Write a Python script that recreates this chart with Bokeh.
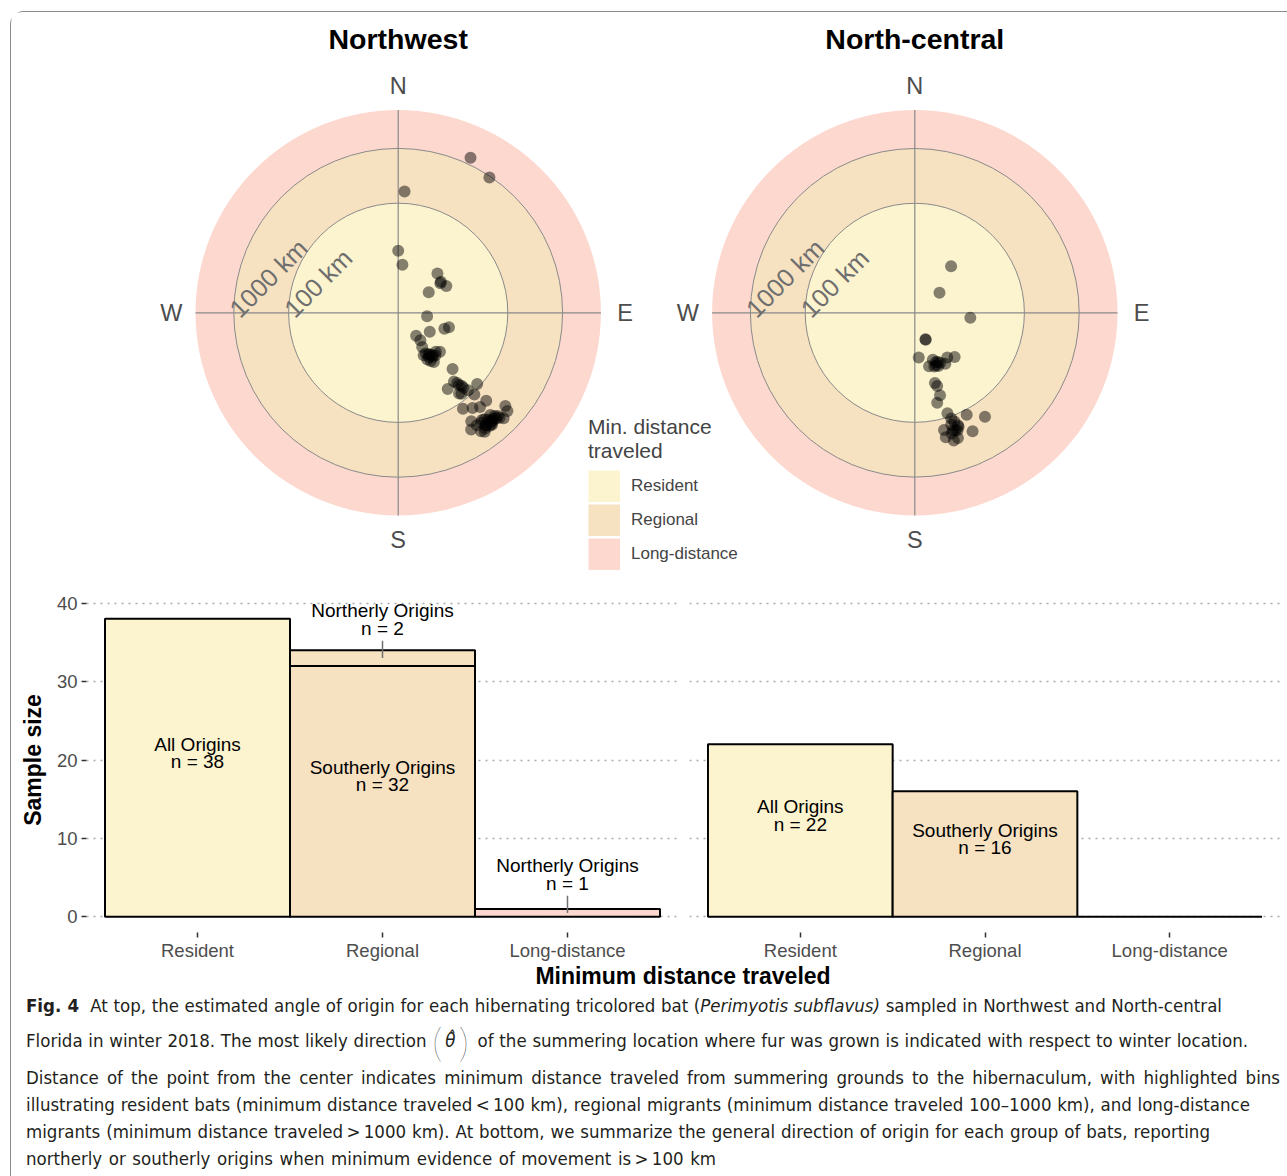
import numpy as np
from bokeh.plotting import figure
from bokeh.models import Range1d, Legend, LegendItem, FixedTicker, Div
from bokeh.layouts import column, row
from bokeh.embed import file_html
from bokeh.resources import INLINE
from bokeh.core.properties import value

# ---------------- data ----------------
panels = ["Northwest", "North-central"]
distance_bins = ["Resident", "Regional", "Long-distance"]
bin_colors = ["#FCF3CF", "#F6E1C1", "#FDD8CF"]
ring_breaks_km = [100, 1000]
ring_labels = ["100 km", "1000 km"]
outer_limit_km = 5000
compass_labels = ["N", "E", "S", "W"]
compass_bearings = [0, 90, 180, 270]

# estimated angle of origin (degrees clockwise from N) and minimum distance (km)
nw_bearing_deg = [0, 5, 45, 55, 61, 56, 97, 121, 109, 106, 142, 141, 145, 146, 145, 141,
                  136, 133, 144, 148, 149, 136, 141, 140, 139, 147, 142, 132,
                  143, 142, 146, 139, 144, 54, 140, 139, 143, 138,
                  34, 3,
                  137, 135, 139, 146, 142, 131, 132, 138, 137, 141, 140, 143, 135, 146,
                  145, 143, 140, 148, 145, 144, 136, 142, 142,
                  139, 140, 138, 141, 139, 137, 142, 136, 140,
                  25]
nw_distance_km = [13.6, 7.6, 10.3, 8.7, 10.1, 4.7, 3.4, 4.7, 7.8, 9.2, 3.4, 4.4, 5.8, 7.9, 9.5, 9.8,
                  9.7, 11, 12.8, 10.1, 8.0, 26.8, 41.3, 52.6, 64.9, 45.6, 75.3, 87,
                  9.0, 10.5, 11.5, 10.8, 8.6, 9.2, 47, 58, 70, 80,
                  948, 164,
                  109, 187, 189, 130, 160, 389, 480, 324, 375, 318, 382, 326, 526, 243,
                  318, 436, 464, 325, 433, 484, 412, 407, 304,
                  420, 440, 400, 450, 395, 430, 390, 460, 350,
                  1327]
nc_bearing_deg = [38, 51, 95, 158, 158, 175, 159, 158, 165, 149, 138, 144, 164, 163, 163, 166,
                  162, 155, 157, 153, 160, 156,
                  153, 146, 160, 161, 166, 154, 166, 163, 161, 162, 159, 161, 162, 160, 163, 159]
nc_distance_km = [11.9, 3.8, 10.4, 3.3, 3.4, 6.6, 8.3, 10.8, 10.2, 12.1, 12.2, 10.2, 21.5, 25, 37.5, 49,
                  84.7, 9.8, 9.5, 10.5, 11, 11.5,
                  122, 195, 129, 184, 160, 254, 219, 272, 261, 141, 158, 110, 179, 190, 200, 170]

# bar chart: sample size by minimum distance traveled and general origin
bar_panel = ["Northwest", "Northwest", "Northwest", "Northwest",
             "North-central", "North-central", "North-central"]
bar_bin = ["Resident", "Regional", "Regional", "Long-distance",
           "Resident", "Regional", "Long-distance"]
bar_group = ["All Origins", "Southerly Origins", "Northerly Origins", "Northerly Origins",
             "All Origins", "Southerly Origins", ""]
bar_n = [38, 32, 2, 1, 22, 16, 0]
y_ticks = [0, 10, 20, 30, 40]

FNAME = "Liberation Sans"
FONT = value(FNAME)

# ---------------- polar panels ----------------
PX = 54.8                    # pixels per decade of km
TOP_W, TOP_H = 1276, 573
center_px = {"Northwest": 386.7, "North-central": 903.3}
CY = 300.3
range_name = {"Northwest": "default", "North-central": "nc"}

y_rng = Range1d(-(TOP_H - CY) / PX, CY / PX)
x_rngs = {p: Range1d(-cx / PX, (TOP_W - cx) / PX) for p, cx in center_px.items()}

top = figure(width=TOP_W, height=TOP_H, x_range=x_rngs["Northwest"], y_range=y_rng,
             x_axis_location=None, y_axis_location=None, output_backend="svg",
             toolbar_location=None, min_border=0, outline_line_color=None)
top.extra_x_ranges = {"nc": x_rngs["North-central"]}
top.grid.visible = False

R_OUT = np.log10(outer_limit_km)
R_LAB = 4.14
R_TITLE = 5.0


def polar_xy(bearing, km):
    r = np.log10(np.asarray(km, dtype=float))
    t = np.radians(np.asarray(bearing, dtype=float))
    return r * np.sin(t), r * np.cos(t)


points = {"Northwest": (nw_bearing_deg, nw_distance_km),
          "North-central": (nc_bearing_deg, nc_distance_km)}

for pnl in panels:
    rn = range_name[pnl]
    radii = [R_OUT] + [np.log10(k) for k in ring_breaks_km[::-1]]
    for rad, col in zip(radii, bin_colors[::-1]):
        top.circle(x=[0], y=[0], radius=rad, fill_color=col, line_color=None, x_range_name=rn)
    top.circle(x=[0, 0], y=[0, 0], radius=[np.log10(k) for k in ring_breaks_km],
               fill_color=None, line_color="#8a8a8a", line_width=1, x_range_name=rn)
    top.segment(x0=[-R_OUT, 0], y0=[0, -R_OUT], x1=[R_OUT, 0], y1=[0, R_OUT],
                line_color="#8a8a8a", line_width=1.2, x_range_name=rn)
    cx_, cy_ = polar_xy(compass_bearings, [10 ** R_LAB] * 4)
    top.text(x=cx_, y=cy_, text=compass_labels, text_align="center", text_baseline="middle",
             text_font=FONT, text_font_size="23.5px", text_color="#4d4d4d", x_range_name=rn)
    top.text(x=[-np.log10(k) for k in ring_breaks_km], y=[0, 0], text=ring_labels,
             angle=np.pi / 4, text_align="left", text_baseline="alphabetic",
             text_font=FONT, text_font_size="25.5px", text_color="#6e6e6e", x_range_name=rn)
    bx, by = polar_xy(*points[pnl])
    top.scatter(x=bx, y=by, size=12, fill_color="black", fill_alpha=0.48,
                line_color=None, x_range_name=rn)
    top.text(x=[0], y=[R_TITLE], text=[pnl], text_align="center", text_baseline="middle",
             text_font=FONT, text_font_size="28.5px", text_font_style="bold",
             text_color="black", x_range_name=rn)

# legend keys: thick butt-capped line renderers fill the whole 32x32 key box
KEY = 32
leg_items = []
for b, c in zip(distance_bins, bin_colors):
    r = top.line(x=[np.nan], y=[np.nan], line_color=c, line_width=KEY, line_cap="butt")
    leg_items.append(LegendItem(label=b, renderers=[r]))
legend = Legend(items=leg_items, title="Min. distance\ntraveled", location=(577, 15),
                glyph_width=KEY, glyph_height=KEY, spacing=2, padding=0, margin=0,
                label_standoff=11, label_text_font=FNAME, label_text_font_size="17px",
                title_text_font=FNAME, title_text_font_size="21px", title_text_font_style="normal",
                title_standoff=7, background_fill_alpha=0, border_line_alpha=0,
                label_height=KEY)
top.add_layout(legend)

# ---------------- bar panels ----------------
base = []
acc = {}
for pnl, b, n in zip(bar_panel, bar_bin, bar_n):
    k = (pnl, b)
    base.append(acc.get(k, 0))
    acc[k] = acc.get(k, 0) + n


def bar_figure(pnl, first):
    f = figure(width=667 if first else 609, height=387,
               x_range=Range1d(0.4, 3.6), y_range=Range1d(-2, 42),
               y_axis_location="left" if first else None,
               output_backend="svg", toolbar_location=None, outline_line_color=None,
               min_border_left=75 if first else 11, min_border_right=0 if first else 7,
               min_border_top=2, min_border_bottom=40)
    f.xgrid.visible = False
    f.ygrid.ticker = FixedTicker(ticks=y_ticks)
    f.ygrid.grid_line_color = "#aaaaaa"
    f.ygrid.grid_line_dash = "2 5"
    f.ygrid.grid_line_width = 1.5
    f.xaxis.ticker = FixedTicker(ticks=[1, 2, 3])
    f.xaxis.major_label_overrides = {i + 1: b for i, b in enumerate(distance_bins)}
    axes = [f.xaxis[0]] + ([f.yaxis[0]] if first else [])
    for ax in axes:
        ax.axis_line_color = None
        ax.major_tick_in = 0
        ax.major_tick_out = 5
        ax.major_tick_line_color = "#333333"
        ax.major_tick_line_width = 1.5
        ax.minor_tick_line_color = None
        ax.major_label_text_font = FNAME
        ax.major_label_text_font_size = "18.5px"
        ax.major_label_text_color = "#4d4d4d"
        ax.major_label_standoff = 2
    if first:
        f.yaxis.ticker = FixedTicker(ticks=y_ticks)
        f.yaxis.major_label_standoff = 4
        f.yaxis.axis_label = "Sample size"
        f.yaxis.axis_label_text_font = FNAME
        f.yaxis.axis_label_text_font_size = "23px"
        f.yaxis.axis_label_text_font_style = "bold"
        f.yaxis.axis_label_text_color = "black"
        f.yaxis.axis_label_standoff = 8

    idx = [i for i, p in enumerate(bar_panel) if p == pnl]
    xs = [distance_bins.index(bar_bin[i]) + 1 for i in idx]
    f.quad(left=[x - 0.5 for x in xs], right=[x + 0.5 for x in xs],
           bottom=[base[i] for i in idx], top=[base[i] + bar_n[i] for i in idx],
           fill_color=[bin_colors[distance_bins.index(bar_bin[i])] for i in idx],
           line_color="black", line_width=2)
    in_x, in_y, in_t, out_x, out_y0, out_y1, out_ty, out_t = [], [], [], [], [], [], [], []
    for x, i in zip(xs, idx):
        if not bar_group[i]:
            continue
        mid = base[i] + bar_n[i] / 2
        lab = f"{bar_group[i]}\nn = {bar_n[i]}"
        if bar_group[i].startswith("Northerly"):
            out_x.append(x); out_y0.append(mid); out_y1.append(mid + 2.2)
            out_ty.append(mid + 2.6); out_t.append(lab)
        else:
            in_x.append(x); in_y.append(mid); in_t.append(lab)
    if out_x:
        f.segment(x0=out_x, y0=out_y0, x1=out_x, y1=out_y1, line_color="#707070", line_width=1.5)
    for tx, ty, tt, yo in ((in_x, in_y, in_t, 4), (out_x, out_ty, out_t, 1)):
        if tx:
            f.text(x=tx, y=ty, text=tt, text_align="center", text_baseline="bottom",
                   y_offset=yo, text_font=FONT, text_font_size="19px", text_color="black",
                   text_line_height=0.82)
    return f


bars = row(bar_figure("Northwest", True), bar_figure("North-central", False))

# ---------------- caption ----------------
CAP = ("font-family:'Liberation Sans Narrow','Arial Narrow','DejaVu Sans Condensed',sans-serif;"
       "font-size:18.5px;color:#231f20;text-align:justify;text-align-last:justify;")
pwrap = "display:inline-block;position:relative;width:13px;height:1px;"
pglyph = ("position:absolute;left:0;top:-24.5px;font-family:'Lato','Inter',sans-serif;"
          "font-weight:100;font-size:40px;line-height:40px;")
lpar = f'<span style="{pwrap}"><span style="{pglyph}">(</span></span>'
rpar = f'<span style="{pwrap}"><span style="{pglyph}">)</span></span>'
# (vertical centre in px from caption top, line width in px, html)
cap_lines = [
    (34, 1196, "<b>Fig. 4</b>&nbsp; At top, the estimated angle of origin for each hibernating tricolored bat (<i>Perimyotis subflavus)</i> sampled in Northwest and North-central"),
    (69, 1222, f"Florida in winter 2018. The most likely direction {lpar}<i>&theta;&#770;</i>&thinsp;{rpar} of the summering location where fur was grown is indicated with respect to winter location."),
    (106, 1254, "Distance of the point from the center indicates minimum distance traveled from summering grounds to the hibernaculum, with highlighted bins"),
    (133, 1224, "illustrating resident bats (minimum distance traveled&thinsp;&lt;&thinsp;100 km), regional migrants (minimum distance traveled 100&ndash;1000 km), and long-distance"),
    (160, 1184, "migrants (minimum distance traveled&thinsp;&gt;&thinsp;1000 km). At bottom, we summarize the general direction of origin for each group of bats, reporting"),
    (187, 690, "northerly or southerly origins when minimum evidence of movement is&thinsp;&gt;&thinsp;100 km"),
]
CAP_H = 204
DIV_OFF = 5   # inner offset of the Div content
html = [f'<div style="position:relative;width:1270px;height:{CAP_H - 10}px;">']
html.append(f'<div style="position:absolute;left:{672 - DIV_OFF}px;top:{-7 - DIV_OFF}px;transform:translateX(-50%);'
            'white-space:nowrap;font-family:\'Liberation Sans\',sans-serif;font-weight:bold;'
            'font-size:23px;line-height:22px;color:black;">Minimum distance traveled</div>')
for cy, w, txt in cap_lines:
    html.append(f'<div style="position:absolute;left:{15 - DIV_OFF}px;top:{cy - 10 - DIV_OFF}px;width:{w}px;'
                f'white-space:nowrap;line-height:20px;{CAP}">{txt}</div>')
html.append('</div>')
caption = Div(text="".join(html), width=1276, height=CAP_H)

layout = column(top, bars, caption, margin=(11, 0, 0, 10),
                styles={"border-left": "1px solid #8a8a8a", "border-top": "1px solid #8a8a8a",
                        "border-top-left-radius": "14px"})

with open("out.html", "w") as fh:
    fh.write(file_html(layout, INLINE))
